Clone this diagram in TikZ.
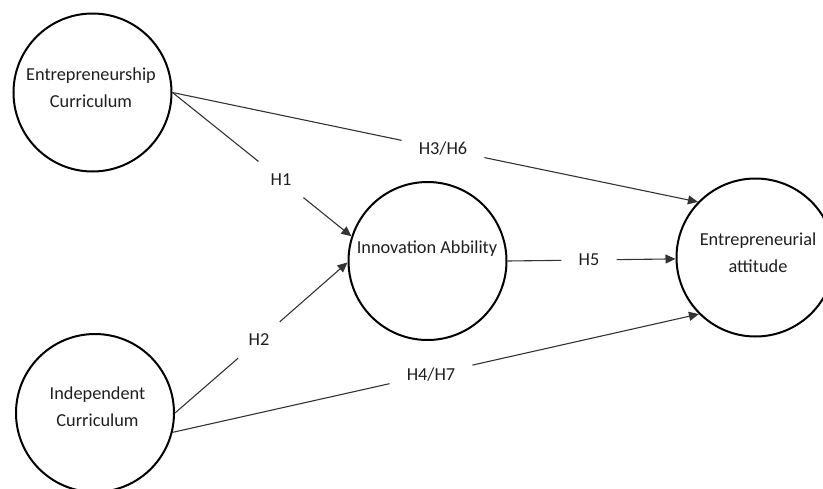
\documentclass[tikz,border=0pt]{standalone}
\usepackage{fontspec}
\setmainfont{Carlito}
\usetikzlibrary{arrows.meta}
\begin{document}
\begin{tikzpicture}[x=1pt,y=-1pt,
  latent/.style={circle, draw=black, line width=2pt, minimum size=158pt, inner sep=0pt},
  txt/.style={font=\fontsize{18.3}{27}\selectfont, text=black!88, align=center, inner sep=0pt},
  hyp/.style={font=\fontsize{18.3}{22}\selectfont, text=black!88, inner xsep=17pt, inner ysep=12pt},
  conn/.style={draw=black!80, line width=1.1pt},
  arr/.style={conn, -{Triangle[length=10pt,width=9pt]}}
]
\useasboundingbox (0,0) rectangle (823,488);
\begin{scope}
\clip (0,0) rectangle (823,488);
\node[font=\fontsize{18.3}{22}\selectfont, anchor=base, inner sep=0pt] (cap) at (96,-3.5) {g};

% latent variables
\node[latent] (ec) at (92.5,92.5) {};
\node[latent] (ic) at (95,413) {};
\node[latent] (ia) at (427.5,261) {};
\node[latent] (ea) at (755.5,257.5) {};

% texts inside circles
\node[txt] (ec-t) at (91,88) {Entrepreneurship\\Curriculum};
\node[txt] (ic-t) at (97.5,407) {Independent\\Curriculum};
\node[txt] (ia-t) at (427,248.5) {Innovation Abbility};
\node[txt] (ea-t) at (758,252.5) {Entrepreneurial\\attitude};

% hypothesis labels
\node[hyp] (h1) at (281,179.5) {H1};
\node[hyp] (h2) at (259,340) {H2};
\node[hyp] (h3) at (443,149) {H3/H6};
\node[hyp] (h4) at (431,374.4) {H4/H7};
\node[hyp] (h5) at (589,260) {H5};

% connectors
\draw[conn] (ec.east) -- (h1);
\draw[arr] (h1) -- (ia.162);
\draw[conn] (ic.east) -- (h2);
\draw[arr] (h2) -- (ia.181);
\draw[conn] (ec.east) -- (h3);
\draw[arr] (h3) -- (ea.136);
\draw[conn] (ic.-14) -- (h4);
\draw[arr] (h4) -- (ea.225);
\draw[conn] (ia.east) -- (h5);
\draw[arr] (h5) -- (ea.181);
\end{scope}
\end{tikzpicture}
\end{document}
